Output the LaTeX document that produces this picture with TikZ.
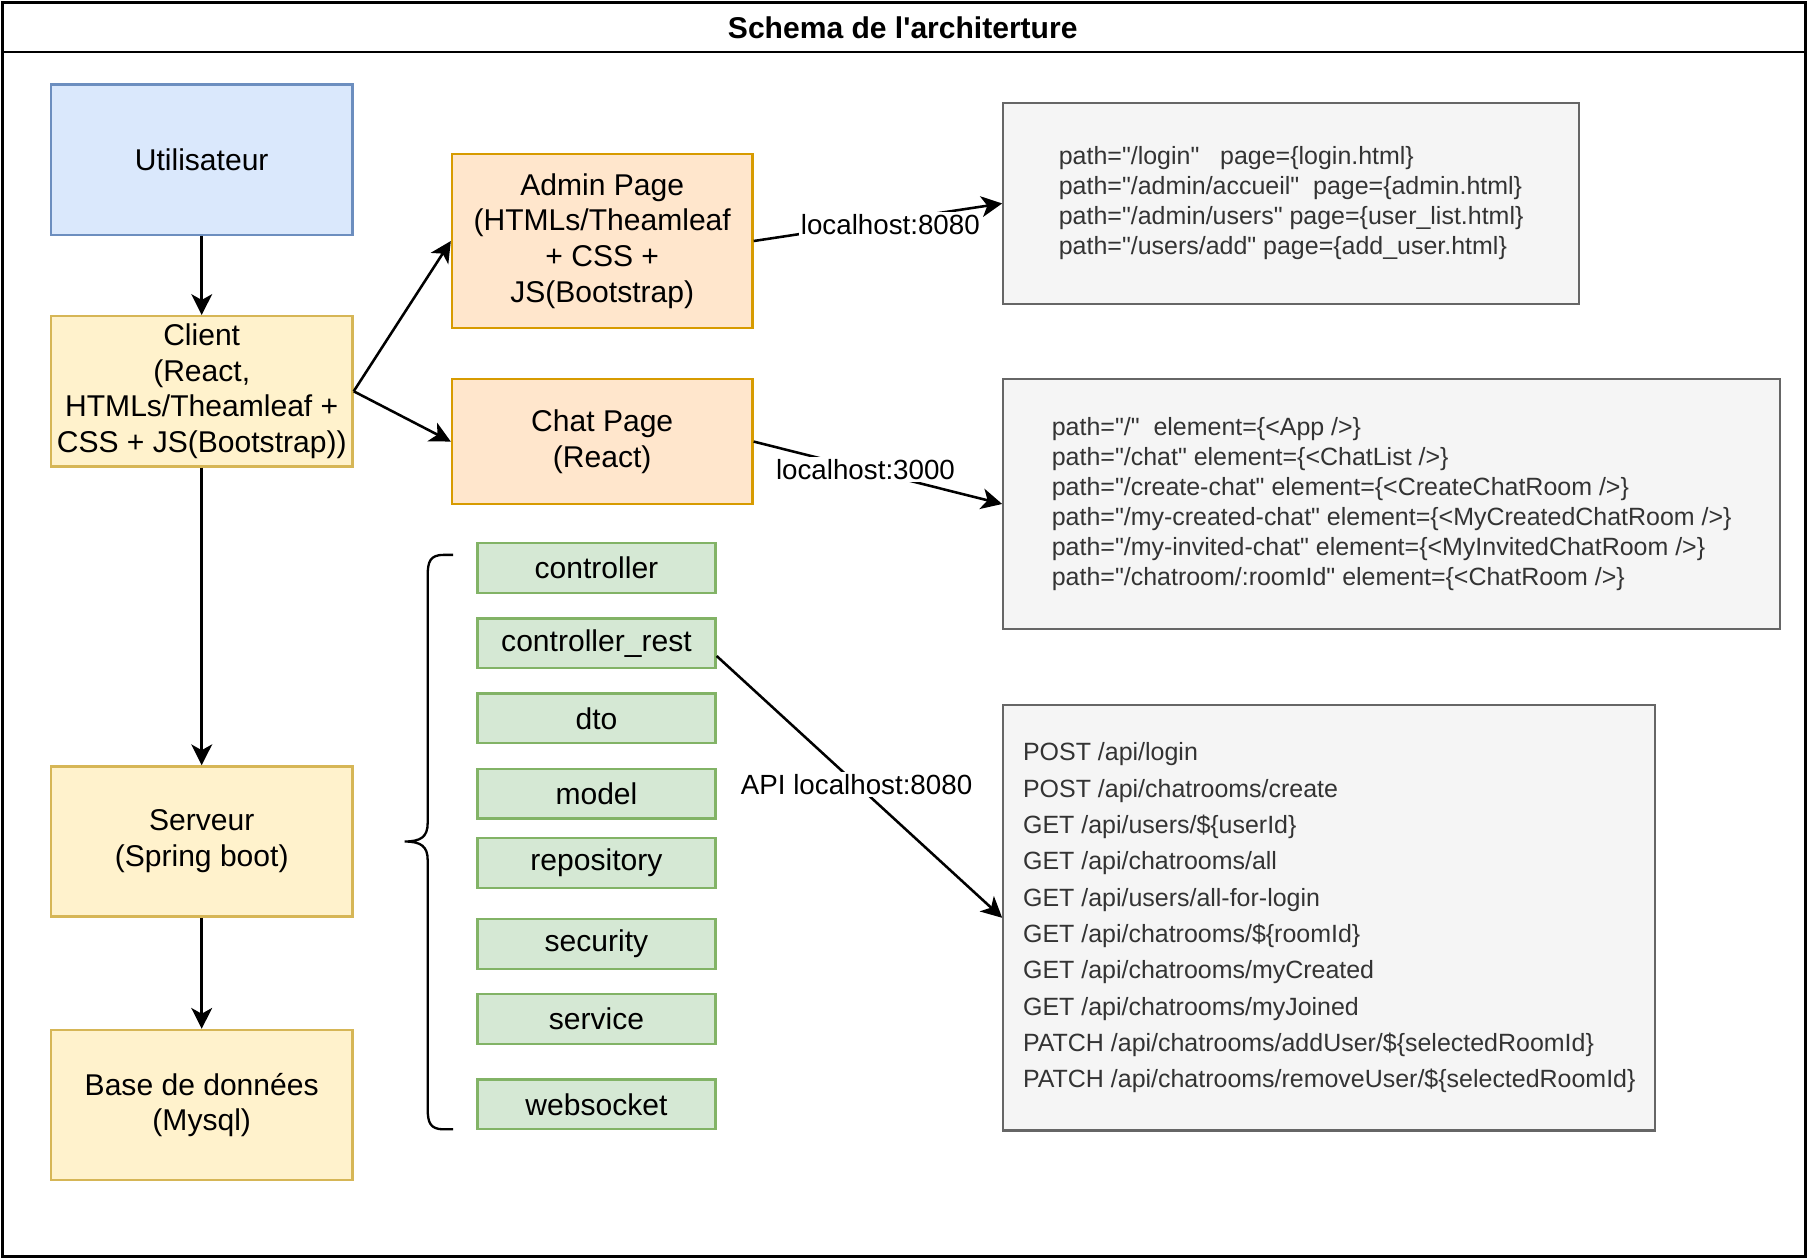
\documentclass[tikz,border=0pt]{standalone}
\usepackage{fontspec}
\setmainfont{Liberation Sans}
\newfontfamily\arial{Liberation Sans}
\usetikzlibrary{arrows.meta}
\definecolor{bluef}{HTML}{DAE8FC}\definecolor{blued}{HTML}{6C8EBF}
\definecolor{yelf}{HTML}{FFF2CC}\definecolor{yeld}{HTML}{D6B656}
\definecolor{orf}{HTML}{FFE6CC}\definecolor{ord}{HTML}{D79B00}
\definecolor{grf}{HTML}{D5E8D4}\definecolor{grd}{HTML}{82B366}
\definecolor{gyf}{HTML}{F5F5F5}\definecolor{gyd}{HTML}{666666}
\definecolor{gyt}{HTML}{333333}
\begin{document}
\begin{tikzpicture}[x=0.5pt,y=-0.5pt,
  box/.style={draw, line width=1pt, align=center, inner sep=2pt,
    font=\arial\fontsize{13}{15.5}\selectfont},
  usr/.style={box, fill=bluef, draw=blued, minimum width=130.5pt, minimum height=65pt},
  tier/.style={box, fill=yelf, draw=yeld, minimum width=130.5pt, minimum height=65pt},
  page/.style={box, fill=orf, draw=ord, minimum width=130pt},
  pkg/.style={box, fill=grf, draw=grd, minimum width=103pt, minimum height=21.5pt},
  info/.style={draw=gyd, fill=gyf, line width=1pt, align=left, text=gyt, inner sep=2pt,
    font=\arial\fontsize{10.8}{13}\selectfont},
  conn/.style={line width=1.1pt, -{Stealth[length=9pt,width=9pt,inset=2.5pt]}},
  lbl/.style={fill=white, inner sep=1pt, font=\arial\fontsize{12}{14}\selectfont},
  frame/.style={draw=black, line width=1.2pt}]
\useasboundingbox (0,0) rectangle (1565,1089);
% frame
\draw[frame] (2,2) rectangle (1562,1087);
\draw[frame] (2,45) -- (1562,45);
\node[font=\arial\bfseries\fontsize{13}{15.5}\selectfont] (title) at (781,24) {Schema de l'architerture};
% left column
\node[usr] (usr) at (174.5,138) {Utilisateur};
\node[tier] (cli) at (174.5,338.5) {Client\\(React,\\HTMLs/Theamleaf +\\CSS + JS(Bootstrap))};
\node[tier] (srv) at (174.5,728) {Serveur\\(Spring boot)};
\node[tier] (db) at (174.5,956) {Base de données\\(Mysql)};
% pages
\node[page, minimum height=75.5pt] (adm) at (521,208.5) {Admin Page\\(HTMLs/Theamleaf\\+ CSS +\\JS(Bootstrap)};
\node[page, minimum height=54pt] (chat) at (521,382) {Chat Page\\(React)};
% info boxes
\node[info, minimum width=249pt, minimum height=87pt] (box1) at (1117,176) {%
path="/login" \ \ page=\{login.html\}\\
path="/admin/accueil" \ page=\{admin.html\}\\
path="/admin/users" page=\{user\_list.html\}\\
path="/users/add" page=\{add\_user.html\}};
\node[info, minimum width=336pt, minimum height=108pt] (box2) at (1204,436) {%
path="/" \ element=\{<App />\}\\
path="/chat" element=\{<ChatList />\}\\
path="/create-chat" element=\{<CreateChatRoom />\}\\
path="/my-created-chat" element=\{<MyCreatedChatRoom />\}\\
path="/my-invited-chat" element=\{<MyInvitedChatRoom />\}\\
path="/chatroom/:roomId" element=\{<ChatRoom />\}};
\node[info, minimum width=282pt, minimum height=184pt, font=\arial\fontsize{10.8}{15.7}\selectfont] (box3) at (1150,794) {%
POST /api/login\\
POST /api/chatrooms/create\\
GET /api/users/\$\{userId\}\\
GET /api/chatrooms/all\\
GET /api/users/all-for-login\\
GET /api/chatrooms/\$\{roomId\}\\
GET /api/chatrooms/myCreated\\
GET /api/chatrooms/myJoined\\
PATCH /api/chatrooms/addUser/\$\{selectedRoomId\}\\
PATCH /api/chatrooms/removeUser/\$\{selectedRoomId\}};
% packages
\node[pkg] (p1) at (516,491.5) {controller};
\node[pkg] (cr) at (516,556.5) {controller\_rest};
\node[pkg] (p3) at (516,621.5) {dto};
\node[pkg] (p4) at (516,686.5) {model};
\node[pkg] (p5) at (516,746.5) {repository};
\node[pkg] (p6) at (516,816.5) {security};
\node[pkg] (p7) at (516,881.5) {service};
\node[pkg] (p8) at (516,955.5) {websocket};
% brace
\draw[line width=1pt] (392,480) -- (384,480) .. controls (372,480) and (370,486) .. (370,498)
  -- (370,712) .. controls (370,724) and (364,728) .. (350,728)
  .. controls (364,728) and (370,732) .. (370,744)
  -- (370,959) .. controls (370,971) and (372,977) .. (384,977) -- (392,977);
% connectors
\draw[conn] (usr) -- (cli);
\draw[conn] (cli.east) -- (adm.west);
\draw[conn] (cli.east) -- (chat.west);
\draw[conn] (cli) -- (srv);
\draw[conn] (srv) -- (db);
\draw[conn] (adm.east) -- node[lbl, pos=0.55, yshift=-2pt] {localhost:8080} (box1.west);
\draw[conn] (chat.east) -- node[lbl, pos=0.45] {localhost:3000} (box2.west);
\coordinate (crx) at ([yshift=-5.5pt]cr.east);
\draw[conn] (crx) -- node[lbl, pos=0.49] {API localhost:8080} (box3.west);
\end{tikzpicture}
\end{document}
